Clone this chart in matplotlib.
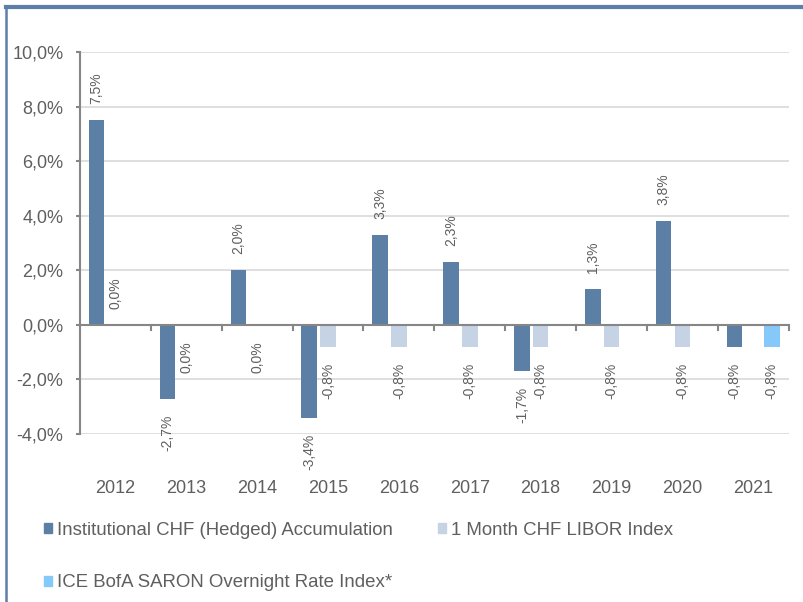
import numpy as np
import matplotlib.pyplot as plt
from matplotlib.lines import Line2D
from matplotlib.patches import Patch

plt.rcParams["font.family"] = ["Liberation Sans", "DejaVu Sans"]

years = ["2012", "2013", "2014", "2015", "2016", "2017", "2018", "2019", "2020", "2021"]
fund = [7.5, -2.7, 2.0, -3.4, 3.3, 2.3, -1.7, 1.3, 3.8, -0.8]
libor = [0.01, -0.01, -0.01, -0.8, -0.8, -0.8, -0.8, -0.8, -0.8, np.nan]
saron = [np.nan] * 9 + [-0.8]

fund_name = "Institutional CHF (Hedged) Accumulation"
libor_name = "1 Month CHF LIBOR Index"
saron_name = "ICE BofA SARON Overnight Rate Index*"

c_fund = "#5b7fa5"
c_libor = "#c5d3e5"
c_saron = "#85c8fa"
grey = "#5f5f5f"

fig = plt.figure(figsize=(8.04, 6.02), dpi=100)
ax = fig.add_axes([0.0995, 0.279, 0.8815, 0.6345])

x = np.arange(len(years)) + 0.5
width = 0.22
series = [(fund, -0.265, c_fund), (libor, 0.0, c_libor), (saron, 0.26, c_saron)]

for vals, off, col in series:
    vals = np.array(vals, dtype=float)
    ax.bar(x + off, vals, width=width, color=col, zorder=3)
    for xi, v in zip(x + off, vals):
        if np.isnan(v):
            continue
        txt = f"{v:.1f}%".replace(".", ",").replace("-0,0", "0,0")
        if v >= 0:
            ax.annotate(txt, (xi, v), xytext=(0, 11.5), textcoords="offset points",
                        rotation=90, ha="center", va="bottom", fontsize=10, color=grey)
        else:
            ax.annotate(txt, (xi, v), xytext=(0, -11.5), textcoords="offset points",
                        rotation=90, ha="center", va="top", fontsize=10, color=grey)

ax.set_xlim(0, len(years))
ax.set_ylim(-4, 10)
ax.set_yticks(np.arange(-4, 11, 2))
ax.set_yticklabels([f"{t:.1f}%".replace(".", ",") for t in np.arange(-4, 11, 2)])
ax.tick_params(axis="y", colors="#868686", labelcolor=grey, labelsize=13,
               length=3, width=1.5, direction="out", pad=9)
for t in [-4, -2, 2, 4, 6, 8, 10]:
    ax.axhline(t, color="#d9d9d9", lw=1.2, zorder=1)

# category axis drawn at zero
ax.axhline(0, color="#868686", lw=1.5, zorder=4)
ax.set_xticks([])
for b in range(1, len(years) + 1):
    ax.plot([b, b], [0, -0.17], color="#868686", lw=1.5, zorder=4, clip_on=False)
for xi, yr in zip(x, years):
    ax.text(xi, -6.0, yr, ha="center", va="center", fontsize=13, color=grey)

for s in ["top", "right", "bottom"]:
    ax.spines[s].set_visible(False)
ax.spines["left"].set_color("#868686")
ax.spines["left"].set_linewidth(1.5)

# legend entries, placed one by one
entries = [(fund_name, c_fund, 0.0547, 0.1196),
           (libor_name, c_libor, 0.5448, 0.1196),
           (saron_name, c_saron, 0.0547, 0.0316)]
for name, col, lx, ly in entries:
    fig.legend([Patch(color=col)], [name], loc="center left",
               bbox_to_anchor=(lx, ly), frameon=False, fontsize=13.4,
               labelcolor=grey, handlelength=0.45, handleheight=0.45,
               handletextpad=0.25, borderaxespad=0, borderpad=0)

# frame lines
fig.add_artist(Line2D([0.007, 1.0], [0.9885, 0.9885], color="#5b7fa6", lw=3,
                      transform=fig.transFigure))
fig.add_artist(Line2D([0.0075, 0.0075], [0.0, 0.99], color="#5b7fa6", lw=1.8,
                      transform=fig.transFigure))

fig.savefig("out.png", dpi=100)
